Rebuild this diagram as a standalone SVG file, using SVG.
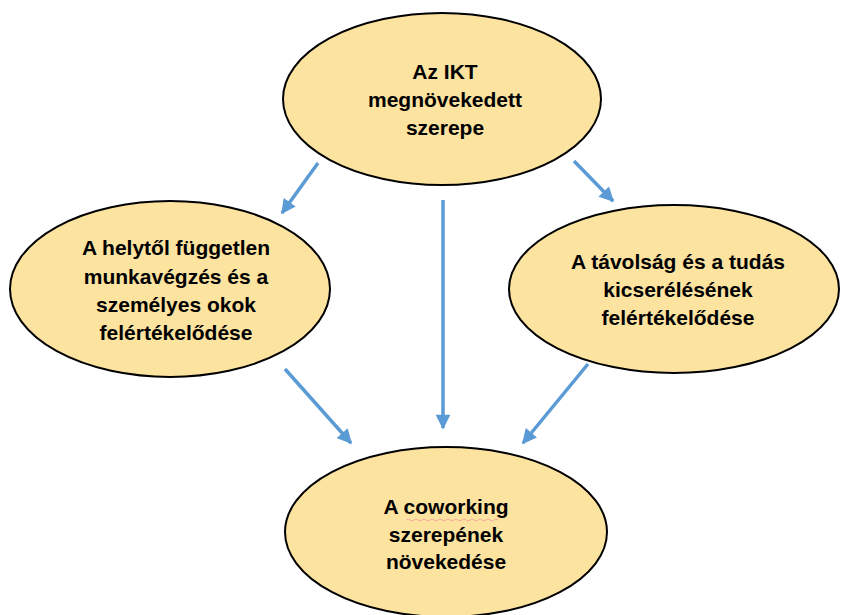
<svg xmlns="http://www.w3.org/2000/svg" width="842" height="615" viewBox="0 0 842 615">
  <defs>
    <marker id="ah" viewBox="0 0 10 10" refX="9" refY="5" markerWidth="4.4" markerHeight="4.2" orient="auto" markerUnits="strokeWidth">
      <path d="M0,0 L10,5 L0,10 z" fill="#5B9BD5"/>
    </marker>
    <style>
      .node { fill: #FCE3A0; stroke: #000; stroke-width: 2; }
      .lbl { font-family: "Liberation Sans", Arial, sans-serif; font-weight: bold; font-size: 21px; fill: #000; text-anchor: middle; }
      .con { stroke: #5B9BD5; stroke-width: 3.5; fill: none; marker-end: url(#ah); }
    </style>
  </defs>
  <rect width="842" height="615" fill="#fff"/>
  <g id="connectors">
    <line class="con" x1="318" y1="163" x2="282" y2="213"/>
    <line class="con" x1="574" y1="161" x2="613" y2="201"/>
    <line class="con" x1="443" y1="200" x2="443" y2="428"/>
    <line class="con" x1="285" y1="369" x2="351" y2="443"/>
    <line class="con" x1="588" y1="364" x2="523" y2="443"/>
  </g>
  <g id="n-top">
    <ellipse class="node" cx="442" cy="99" rx="159" ry="86"/>
    <text class="lbl" x="445" y="79">Az IKT</text>
    <text class="lbl" x="445" y="107">megnövekedett</text>
    <text class="lbl" x="445" y="135">szerepe</text>
  </g>
  <g id="n-left">
    <ellipse class="node" cx="170" cy="289" rx="160" ry="88"/>
    <text class="lbl" x="176" y="255">A helytől független</text>
    <text class="lbl" x="176" y="284">munkavégzés és a</text>
    <text class="lbl" x="176" y="312">személyes okok</text>
    <text class="lbl" x="176" y="340">felértékelődése</text>
  </g>
  <g id="n-right">
    <ellipse class="node" cx="674" cy="289" rx="165" ry="84"/>
    <text class="lbl" x="678" y="269">A távolság és a tudás</text>
    <text class="lbl" x="678" y="297">kicserélésének</text>
    <text class="lbl" x="678" y="325">felértékelődése</text>
  </g>
  <g id="n-bottom">
    <ellipse class="node" cx="446" cy="532" rx="161" ry="85"/>
    <text class="lbl" x="446" y="514">A coworking</text>
    <path d="M406,520 q2,-2 4,0 t4,0 t4,0 t4,0 t4,0 t4,0 t4,0 t4,0 t4,0 t4,0 t4,0 t4,0 t4,0 t4,0 t4,0 t4,0 t4,0 t4,0 t4,0 t4,0 t4,0 t4,0 t4,0" fill="none" stroke="#F19C99" stroke-width="0.8"/>
    <text class="lbl" x="446" y="542">szerepének</text>
    <text class="lbl" x="446" y="569">növekedése</text>
  </g>
</svg>
